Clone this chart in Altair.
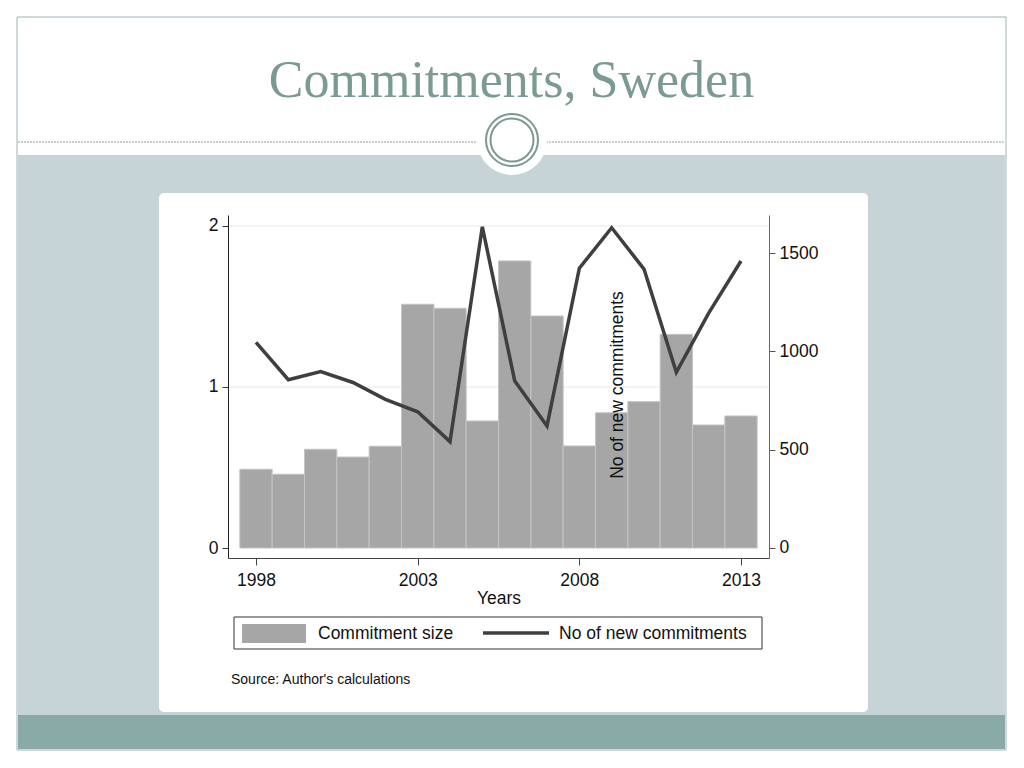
import altair as alt
import pandas as pd

# ---------------- data ----------------
years = list(range(1998, 2014))
commitment_size = [0.489, 0.458, 0.613, 0.565, 0.632, 1.514, 1.489, 0.789,
                   1.783, 1.441, 0.634, 0.840, 0.909, 1.327, 0.764, 0.820]
new_commitments = [1046, 856, 897, 842, 756, 693, 541, 1634,
                   851, 621, 1423, 1629, 1419, 894, 1195, 1460]
x_ticks = [1998, 2003, 2008, 2013]
left_ticks = [0, 1, 2]
right_ticks = [0, 500, 1000, 1500]
grid_values = [1, 2]

title_text = "Commitments, Sweden"
x_title = "Years"
right_title = "No of new commitments"
legend_labels = ["Commitment size", "No of new commitments"]
source_text = "Source: Author's calculations"

# ---------------- layout constants ----------------
OX, OY = 228, 215          # page position of the plot origin
W, H = 541, 343            # plot area size
SANS = "Liberation Sans"
SERIF = "Liberation Serif"

df = pd.DataFrame({"year": years, "size": commitment_size, "n": new_commitments})
grid_df = pd.DataFrame({"g": grid_values})
one = pd.DataFrame({"k": [0]})


def X(px):
    return alt.value(px - OX)


def Y(py):
    return alt.value(py - OY)


def rect(x1, y1, x2, y2, **kw):
    return alt.Chart(one).mark_rect(**kw).encode(x=X(x1), x2=X(x2), y=Y(y1), y2=Y(y2))


def text(x, y, s, **kw):
    return alt.Chart(one).mark_text(text=s, **kw).encode(x=X(x), y=Y(y))


# ---------------- slide decorations ----------------
deco = [
    rect(17, 17, 1006, 750, fill="white", stroke="#9fb3b0", strokeWidth=1),
    rect(18, 155, 1005, 715, fill="#c6d3d7"),
    rect(18, 715, 1005, 749, fill="#8aaaa8"),
    alt.Chart(one).mark_rule(color="#9a9a9a", strokeWidth=1, strokeDash=[2, 1]).encode(
        x=X(18), x2=X(478), y=Y(142)),
    alt.Chart(one).mark_rule(color="#9a9a9a", strokeWidth=1, strokeDash=[2, 1]).encode(
        x=X(546), x2=X(1005), y=Y(142)),
    alt.Chart(one).mark_point(shape="circle", size=70 * 70, filled=True, color="white",
                              opacity=1, strokeWidth=0).encode(x=X(512), y=Y(140)),
    alt.Chart(one).mark_point(shape="circle", size=52 * 52, filled=False, color="#7d9893",
                              opacity=1, strokeWidth=2).encode(x=X(512), y=Y(140)),
    alt.Chart(one).mark_point(shape="circle", size=43 * 43, filled=False, color="#7d9893",
                              opacity=1, strokeWidth=2).encode(x=X(512), y=Y(140)),
    rect(159, 193, 868, 712, fill="white", cornerRadius=5),
    text(511.5, 97, title_text, font=SERIF, fontSize=52, color="#7a9a93",
         align="center", baseline="alphabetic"),
]

# ---------------- axes / scales ----------------
x_axis = alt.Axis(values=x_ticks, format="d", title=x_title, titleFont=SANS,
                  titleFontSize=17.5, titleFontWeight="normal", titleColor="#111",
                  titlePadding=1, labelFont=SANS, labelFontSize=17.5, labelColor="#111",
                  labelPadding=6, tickSize=7, tickColor="#444", domainColor="#444",
                  grid=False, zindex=1)
x_scale = alt.Scale(domain=[1997.134, 2013.866], nice=False, zero=False)

left_scale = alt.Scale(domain=[-0.0621, 2.0683], nice=False, zero=False)
right_scale = alt.Scale(domain=[-51, 1694], nice=False, zero=False)

left_axis = alt.Axis(orient="left", values=left_ticks, format="d", title=None, grid=False,
                     labelFont=SANS, labelFontSize=17.5, labelColor="#111",
                     labelPadding=4, tickSize=6, tickColor="#333",
                     domainColor="#222", zindex=1)

grid = alt.Chart(grid_df).mark_rule(color="#e8e8e8", strokeWidth=1).encode(
    y=alt.Y("g:Q", scale=left_scale, axis=left_axis))

bars = alt.Chart(df).transform_calculate(
    x0="datum.year - 0.5", x1="datum.year + 0.5"
).mark_rect(color="#a6a6a6", stroke="#c4c4c4", strokeWidth=1).encode(
    x=alt.X("x0:Q", scale=x_scale, axis=x_axis),
    x2="x1:Q",
    y=alt.Y("size:Q", scale=left_scale, axis=left_axis),
    y2=alt.datum(0),
)

left_layer = alt.layer(grid, bars)

line = alt.Chart(df).mark_line(color="#3f3f3f", strokeWidth=3.5).encode(
    x=alt.X("year:Q", scale=x_scale, axis=x_axis),
    y=alt.Y("n:Q", scale=right_scale,
            axis=alt.Axis(orient="right", values=right_ticks, format="d", title=None,
                          grid=False, labelFont=SANS, labelFontSize=17.5,
                          labelColor="#111", labelPadding=4, tickSize=6,
                          tickColor="#555", domainColor="#666", zindex=1)),
)

# ---------------- legend, labels, source ----------------
extras = [
    text(618, 385, right_title, font=SANS, fontSize=17.5, color="#111", angle=270,
         align="center", baseline="middle"),
    rect(234, 617, 762, 649, fill="white", stroke="#333", strokeWidth=1),
    rect(242, 624, 306, 643, fill="#a6a6a6"),
    alt.Chart(one).mark_rule(color="#3f3f3f", strokeWidth=3.5).encode(
        x=X(483), x2=X(549), y=Y(633)),
    text(318, 634, legend_labels[0], font=SANS, fontSize=17.5, color="#111",
         align="left", baseline="middle"),
    text(559, 634, legend_labels[1], font=SANS, fontSize=17.5, color="#111",
         align="left", baseline="middle"),
    text(231, 680, source_text, font=SANS, fontSize=14, color="#111",
         align="left", baseline="middle"),
]

chart = alt.layer(*deco, left_layer, line, *extras).resolve_scale(
    y="independent"
).properties(
    width=W, height=H,
    padding={"left": OX - 8, "top": OY - 8, "right": 1016 - (OX + W), "bottom": 760 - (OY + H)},
    autosize=alt.AutoSizeParams(type="none"),
    background="white",
).configure_view(strokeWidth=0)

chart.save("out.html", embed_options={"renderer": "svg", "actions": False})
